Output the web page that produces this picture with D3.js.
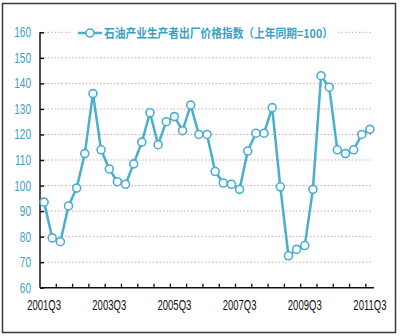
<!DOCTYPE html>
<html><head><meta charset="utf-8">
<script src="https://cdn.jsdelivr.net/npm/d3@7/dist/d3.min.js"></script>
<style>
html,body{margin:0;padding:0;background:#fff;}
svg{display:block;}
</style></head>
<body>
<svg id="chart" width="400" height="336"></svg>
<script>
const categories = [
 "2001Q3","2001Q4","2002Q1","2002Q2","2002Q3","2002Q4","2003Q1","2003Q2","2003Q3","2003Q4",
 "2004Q1","2004Q2","2004Q3","2004Q4","2005Q1","2005Q2","2005Q3","2005Q4","2006Q1","2006Q2",
 "2006Q3","2006Q4","2007Q1","2007Q2","2007Q3","2007Q4","2008Q1","2008Q2","2008Q3","2008Q4",
 "2009Q1","2009Q2","2009Q3","2009Q4","2010Q1","2010Q2","2010Q3","2010Q4","2011Q1","2011Q2","2011Q3"
];
const values = [
 93.5, 79.5, 78, 92, 99, 112.5, 136, 114, 106.5, 101.5,
 100.5, 108.5, 117, 128.5, 116, 125, 127, 121.5, 131.5, 120,
 120, 105.5, 101, 100.5, 98.5, 113.5, 120.5, 120.5, 130.5, 99.5,
 72.5, 75, 76.5, 98.5, 143, 138.5, 114, 112.5, 114, 120, 122
];
const xTickLabels = ["2001Q3","2003Q3","2005Q3","2007Q3","2009Q3","2011Q3"];
const yTicks = [60,70,80,90,100,110,120,130,140,150,160];
const seriesName = "石油产业生产者出厂价格指数（上年同期=100）";

const svg = d3.select("#chart");
const lineColor = "#4aaed0";
const labelColor = "#3a9fc4";
const narrowFont = "'Liberation Sans','Arial',sans-serif";

// outer frame
svg.append("rect").attr("x",2.5).attr("y",3.5).attr("width",393).attr("height",329)
  .attr("fill","#fff").attr("stroke","#3a3a3a").attr("stroke-width",1.5);

const x = d3.scaleBand().domain(categories).range([40, 374]).paddingInner(0).paddingOuter(0);
const y = d3.scaleLinear().domain([60,160]).range([287.7, 32.3]);
const cx = d => x(d) + x.bandwidth()/2;

// gridlines
svg.append("g").selectAll("line").data(yTicks.filter(v=>v>60)).join("line")
  .attr("x1",44).attr("x2",373)
  .attr("y1",d=>y(d)).attr("y2",d=>y(d))
  .attr("stroke","#d4a9a4").attr("stroke-width",1).attr("stroke-dasharray","1.5,2");

// y axis
const yAxis = d3.axisRight(y).tickValues(yTicks).tickSize(4).tickFormat("");
const gy = svg.append("g").attr("transform","translate(40,0)").call(yAxis);
gy.select(".domain").attr("stroke","#111").attr("stroke-width",1.5).attr("d","M0,"+y(160)+"V"+y(60));
gy.selectAll(".tick line").attr("stroke","#111").attr("stroke-width",1.5);
svg.append("g").selectAll("text").data(yTicks).join("text")
  .attr("transform",d=>`translate(31,${y(d)+5}) scale(0.72,1)`).attr("text-anchor","end")
  .attr("font-family",narrowFont)
  .attr("font-size",14).attr("fill",labelColor).text(d=>d);

// x axis: ticks between categories every 2
const gx = svg.append("g");
gx.append("line").attr("x1",40).attr("x2",374).attr("y1",y(60)).attr("y2",y(60))
  .attr("stroke","#111").attr("stroke-width",1.5);
const tickCats = categories.filter((c,i)=> i%2===1);
gx.selectAll("line.t").data(tickCats).join("line").attr("class","t")
  .attr("x1",d=>x(d)+x.bandwidth()).attr("x2",d=>x(d)+x.bandwidth())
  .attr("y1",y(60)).attr("y2",y(60)-4)
  .attr("stroke","#111").attr("stroke-width",1.3);
gx.selectAll("text").data(xTickLabels).join("text")
  .attr("transform",d=>`translate(${cx(d)},310) scale(0.68,1)`).attr("text-anchor","middle")
  .attr("font-family",narrowFont)
  .attr("font-size",14).attr("fill","#111").text(d=>d);

// line
const line = d3.line().x((d,i)=>cx(categories[i])).y(d=>y(d));
svg.append("path").datum(values).attr("d",line).attr("fill","none")
  .attr("stroke",lineColor).attr("stroke-width",2.5).attr("stroke-linejoin","round");
svg.append("g").selectAll("circle").data(values).join("circle")
  .attr("cx",(d,i)=>cx(categories[i])).attr("cy",d=>y(d)).attr("r",4)
  .attr("fill","#fff").attr("stroke",lineColor).attr("stroke-width",1.6);

// legend
const lg = svg.append("g");
lg.append("rect").attr("x",72).attr("y",25).attr("width",266).attr("height",16).attr("fill","#fff");
lg.append("line").attr("x1",78).attr("x2",102).attr("y1",33).attr("y2",33)
  .attr("stroke",lineColor).attr("stroke-width",2.5);
lg.append("circle").attr("cx",90).attr("cy",33).attr("r",4)
  .attr("fill","#fff").attr("stroke",lineColor).attr("stroke-width",1.6);
lg.append("text").attr("x",104).attr("y",37.5)
  .attr("font-family","'Noto Sans CJK SC',sans-serif").attr("font-size",12).attr("font-weight","bold")
  .attr("fill",labelColor).attr("textLength",229).attr("lengthAdjust","spacingAndGlyphs")
  .text(seriesName);
</script>
</body></html>
